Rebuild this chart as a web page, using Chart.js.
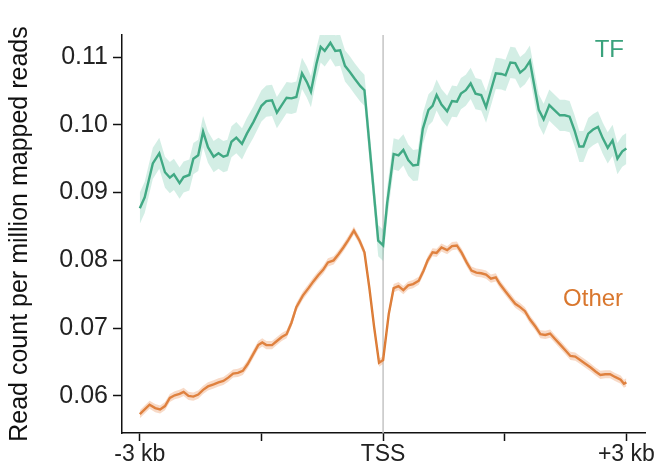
<!DOCTYPE html>
<html>
<head>
<meta charset="utf-8">
<script src="https://cdn.jsdelivr.net/npm/chart.js@4.4.0/dist/chart.umd.min.js"></script>
<style>
  html, body { margin: 0; padding: 0; background: #fff; }
</style>
</head>
<body>
<canvas id="tssProfile" width="659" height="464"></canvas>
<script>
// distance from TSS in kb
const tfPos = [-3.00,-2.94,-2.84,-2.76,-2.69,-2.63,-2.58,-2.51,-2.46,-2.39,-2.34,-2.28,-2.22,-2.16,-2.09,-2.03,-1.97,-1.92,-1.87,-1.81,-1.74,-1.68,-1.60,-1.50,-1.44,-1.37,-1.31,-1.25,-1.19,-1.13,-1.07,-1.00,-0.94,-0.89,-0.82,-0.77,-0.72,-0.65,-0.59,-0.53,-0.47,-0.41,-0.35,-0.28,-0.23,-0.06,0.00,0.05,0.13,0.19,0.25,0.31,0.37,0.43,0.49,0.56,0.61,0.66,0.72,0.79,0.85,0.91,0.96,1.02,1.08,1.14,1.21,1.27,1.33,1.39,1.46,1.51,1.57,1.63,1.69,1.75,1.81,1.86,1.92,1.98,2.05,2.11,2.18,2.24,2.30,2.36,2.42,2.47,2.53,2.59,2.65,2.71,2.77,2.83,2.89,2.95,3.00];
const tfVals = [0.0877,0.0893,0.0943,0.0958,0.0930,0.0922,0.0927,0.0914,0.0923,0.0926,0.0950,0.0955,0.0990,0.0967,0.0953,0.0958,0.0953,0.0955,0.0975,0.0981,0.0972,0.0987,0.1004,0.1028,0.1035,0.1036,0.1018,0.1029,0.1040,0.1039,0.1041,0.1076,0.1063,0.1049,0.1091,0.1115,0.1109,0.1121,0.1109,0.1110,0.1087,0.1078,0.1068,0.1057,0.1051,0.0829,0.0822,0.0884,0.0957,0.0955,0.0963,0.0948,0.0940,0.0941,0.0994,0.1022,0.1028,0.1044,0.1030,0.1020,0.1035,0.1034,0.1046,0.1051,0.1061,0.1046,0.1044,0.1026,0.1051,0.1076,0.1075,0.1073,0.1092,0.1091,0.1077,0.1083,0.1094,0.1061,0.1022,0.1008,0.1029,0.1022,0.1014,0.1014,0.1012,0.0992,0.0968,0.0968,0.0987,0.0993,0.0997,0.0980,0.0966,0.0977,0.0950,0.0961,0.0965];

const otherPos = [-3.00,-2.94,-2.88,-2.81,-2.75,-2.69,-2.63,-2.57,-2.51,-2.46,-2.40,-2.34,-2.28,-2.22,-2.16,-2.09,-2.03,-1.97,-1.91,-1.85,-1.79,-1.73,-1.67,-1.60,-1.54,-1.49,-1.44,-1.37,-1.31,-1.25,-1.19,-1.13,-1.07,-0.99,-0.92,-0.86,-0.80,-0.74,-0.68,-0.61,-0.55,-0.49,-0.43,-0.36,-0.29,-0.23,-0.17,-0.11,-0.05,0.00,0.07,0.13,0.19,0.25,0.31,0.37,0.44,0.50,0.55,0.61,0.66,0.72,0.79,0.85,0.91,0.97,1.03,1.09,1.15,1.21,1.27,1.33,1.39,1.44,1.51,1.57,1.63,1.69,1.75,1.81,1.88,1.94,2.00,2.06,2.12,2.19,2.25,2.31,2.37,2.43,2.49,2.56,2.62,2.68,2.74,2.80,2.86,2.93,2.97,3.00];
const otherVals = [0.0573,0.0580,0.0587,0.0582,0.0580,0.0585,0.0597,0.0601,0.0603,0.0606,0.0600,0.0599,0.0602,0.0609,0.0614,0.0617,0.0620,0.0622,0.0627,0.0633,0.0634,0.0637,0.0647,0.0662,0.0675,0.0679,0.0675,0.0675,0.0681,0.0687,0.0691,0.0708,0.0731,0.0748,0.0759,0.0769,0.0778,0.0786,0.0797,0.0800,0.0809,0.0819,0.0830,0.0844,0.0829,0.0812,0.0760,0.0701,0.0649,0.0653,0.0721,0.0759,0.0762,0.0756,0.0763,0.0765,0.0770,0.0785,0.0800,0.0812,0.0811,0.0819,0.0815,0.0821,0.0822,0.0811,0.0797,0.0785,0.0782,0.0781,0.0779,0.0773,0.0775,0.0765,0.0754,0.0745,0.0736,0.0731,0.0725,0.0713,0.0702,0.0691,0.0690,0.0692,0.0684,0.0675,0.0667,0.0659,0.0658,0.0653,0.0648,0.0642,0.0636,0.0631,0.0632,0.0632,0.0628,0.0624,0.0618,0.0620];

// half width of the shaded error band
const tfSpread = 0.0023;
const otherSpread = 0.0006;

const xTickPos = [-3, -1.5, 0, 1.5, 3];
const xTickLabels = ['-3 kb', '', 'TSS', '', '+3 kb'];
const yTicks = [0.06, 0.07, 0.08, 0.09, 0.10, 0.11];

const green = '#3aa27c';
const orange = '#d9772e';

function toPoints(xs, ys, shift) {
    return xs.map((x, i) => ({ x: x, y: ys[i] + shift }));
}

function bandSet(xs, ys, shift, fill, color) {
    return {
        data: toPoints(xs, ys, shift),
        borderWidth: 0,
        pointRadius: 0,
        fill: fill,
        backgroundColor: color
    };
}

function lineSet(xs, ys, color) {
    return {
        data: toPoints(xs, ys, 0),
        borderColor: color,
        borderWidth: 2.4,
        pointRadius: 0,
        fill: false
    };
}

// grey line at the TSS plus the two series names
const extras = {
    id: 'extras',
    beforeDatasetsDraw(chart) {
        const { ctx, chartArea, scales } = chart;
        const x = scales.x.getPixelForValue(0);
        ctx.save();
        ctx.strokeStyle = '#c4c4c4';
        ctx.lineWidth = 1.5;
        ctx.beginPath();
        ctx.moveTo(x, chartArea.top);
        ctx.lineTo(x, chartArea.bottom);
        ctx.stroke();
        ctx.restore();
    },
    afterDatasetsDraw(chart) {
        const { ctx, scales } = chart;
        ctx.save();
        ctx.font = '24px "Liberation Sans", Arial, sans-serif';
        ctx.textAlign = 'center';
        ctx.textBaseline = 'middle';
        ctx.fillStyle = green;
        ctx.fillText('TF', scales.x.getPixelForValue(2.79), scales.y.getPixelForValue(0.1110));
        ctx.fillStyle = orange;
        ctx.fillText('Other', scales.x.getPixelForValue(2.59), scales.y.getPixelForValue(0.0742));
        ctx.restore();
    }
};

const fontFamily = '"Liberation Sans", Arial, sans-serif';

new Chart(document.getElementById('tssProfile'), {
    type: 'line',
    data: {
        datasets: [
            bandSet(tfPos, tfVals, tfSpread, false, 'transparent'),
            bandSet(tfPos, tfVals, -tfSpread, '-1', 'rgba(85,190,155,0.26)'),
            bandSet(otherPos, otherVals, otherSpread, false, 'transparent'),
            bandSet(otherPos, otherVals, -otherSpread, '-1', 'rgba(235,150,95,0.35)'),
            lineSet(tfPos, tfVals, green),
            lineSet(otherPos, otherVals, orange)
        ]
    },
    options: {
        responsive: false,
        animation: false,
        layout: { padding: { top: 35, right: 14, left: 0, bottom: 0 } },
        plugins: {
            legend: { display: false },
            tooltip: { enabled: false }
        },
        scales: {
            x: {
                type: 'linear',
                min: -3.22,
                max: 3.23,
                afterBuildTicks: scale => { scale.ticks = xTickPos.map(v => ({ value: v })); },
                afterFit: scale => { scale.height = 31; },
                ticks: {
                    callback: (v, i) => xTickLabels[i],
                    font: { family: fontFamily, size: 23 },
                    color: '#222',
                    padding: 0,
                    maxRotation: 0,
                    autoSkip: false
                },
                grid: { drawOnChartArea: false, tickLength: 8, color: '#111', tickWidth: 1.5 },
                border: { color: '#111', width: 1.5 }
            },
            y: {
                min: 0.05453,
                max: 0.11325,
                afterBuildTicks: scale => { scale.ticks = yTicks.map(v => ({ value: v })); },
                afterFit: scale => { scale.width = 122; },
                ticks: {
                    callback: v => v.toFixed(2),
                    font: { family: fontFamily, size: 25 },
                    color: '#222',
                    padding: 5
                },
                grid: { drawOnChartArea: false, tickLength: 9, color: '#111', tickWidth: 1.5 },
                border: { color: '#111', width: 1.5 },
                title: {
                    display: true,
                    text: 'Read count per million mapped reads',
                    font: { family: fontFamily, size: 25 },
                    color: '#111',
                    padding: { top: 5, bottom: 0 }
                }
            }
        }
    },
    plugins: [extras]
});
</script>
</body>
</html>
